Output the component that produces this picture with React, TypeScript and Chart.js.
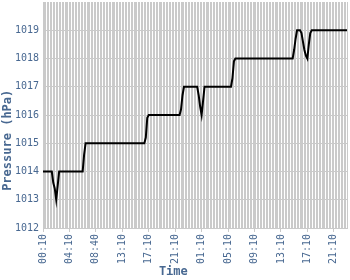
import { useEffect, useRef } from 'react';
import { Chart, registerables } from 'chart.js';

Chart.register(...registerables);

// Visible time tick labels (one every POINTS_PER_TICK samples)
const tickLabels = ['00:10', '04:10', '08:40', '13:10', '17:10', '21:10', '01:10', '05:10', '09:10', '13:10', '17:10', '21:10'];
const POINTS_PER_TICK = 18;

// Pressure readings (hPa), one per sample
const pressure = [
  1014, 1014, 1014, 1014, 1014, 1014, 1014, 1013.6, 1013.4, 1013.0,
  1013.5, 1014, 1014, 1014, 1014, 1014, 1014, 1014, 1014, 1014,
  1014, 1014, 1014, 1014, 1014, 1014, 1014, 1014, 1014.6, 1015,
  1015, 1015, 1015, 1015, 1015, 1015, 1015, 1015, 1015, 1015,
  1015, 1015, 1015, 1015, 1015, 1015, 1015, 1015, 1015, 1015,
  1015, 1015, 1015, 1015, 1015, 1015, 1015, 1015, 1015, 1015,
  1015, 1015, 1015, 1015, 1015, 1015, 1015, 1015, 1015, 1015,
  1015.2, 1015.9, 1016, 1016, 1016, 1016, 1016, 1016, 1016, 1016,
  1016, 1016, 1016, 1016, 1016, 1016, 1016, 1016, 1016, 1016,
  1016, 1016, 1016, 1016, 1016.2, 1016.7, 1017, 1017, 1017, 1017,
  1017, 1017, 1017, 1017, 1017, 1017, 1016.7, 1016.3, 1016.0, 1016.5,
  1017, 1017, 1017, 1017, 1017, 1017, 1017, 1017, 1017, 1017,
  1017, 1017, 1017, 1017, 1017, 1017, 1017, 1017, 1017, 1017.3,
  1017.9, 1018, 1018, 1018, 1018, 1018, 1018, 1018, 1018, 1018,
  1018, 1018, 1018, 1018, 1018, 1018, 1018, 1018, 1018, 1018,
  1018, 1018, 1018, 1018, 1018, 1018, 1018, 1018, 1018, 1018,
  1018, 1018, 1018, 1018, 1018, 1018, 1018, 1018, 1018, 1018,
  1018, 1018.3, 1018.7, 1019, 1019, 1019, 1018.9, 1018.6, 1018.3, 1018.1,
  1018.0, 1018.5, 1018.9, 1019, 1019, 1019, 1019, 1019, 1019, 1019,
  1019, 1019, 1019, 1019, 1019, 1019, 1019, 1019, 1019, 1019,
  1019, 1019, 1019, 1019, 1019, 1019, 1019, 1019,
];

// Category labels: the tick label at every POINTS_PER_TICK-th sample, blank otherwise
const categories = pressure.map((_, i) =>
  i % POINTS_PER_TICK === 0 ? tickLabels[i / POINTS_PER_TICK] ?? '' : ''
);

const Y_MIN = 1012;
const Y_MAX = 1020;

const GRID = '#cacaca';
const TEXT = '#486891';
const MONO = "'DejaVu Sans Mono', monospace";

export default function App() {
  const ref = useRef<HTMLCanvasElement>(null);

  useEffect(() => {
    const chart = new Chart(ref.current!, {
      type: 'line',
      data: {
        labels: categories,
        datasets: [
          {
            data: pressure,
            borderColor: '#000000',
            borderWidth: 2,
            pointRadius: 0,
            tension: 0,
            fill: false,
          },
        ],
      },
      options: {
        responsive: false,
        animation: false,
        layout: { padding: { top: 2, right: 3, left: 0, bottom: 0 } },
        plugins: { legend: { display: false }, tooltip: { enabled: false } },
        scales: {
          x: {
            type: 'category',
            offset: false,
            grid: {
              color: GRID,
              lineWidth: 1,
              offset: false,
              drawTicks: true,
              tickLength: 4,
              tickColor: (c: any) => (c.index % POINTS_PER_TICK === 0 ? GRID : 'rgba(0,0,0,0)'),
            },
            border: { color: GRID },
            ticks: {
              autoSkip: false,
              maxRotation: 90,
              minRotation: 90,
              padding: 2,
              color: TEXT,
              font: { family: MONO, size: 10 },
              callback: (_v: any, i: number) => categories[i],
            },
            title: {
              display: true,
              text: 'Time      ',
              color: TEXT,
              font: { family: MONO, size: 12, weight: 'bold' },
              padding: { top: 0, bottom: 1 },
            },
            afterFit: (s: any) => {
              s.height = 52;
              s.paddingLeft = 0;
              s.paddingRight = 0;
            },
          },
          y: {
            min: Y_MIN,
            max: Y_MAX,
            grid: {
              color: (c: any) => (c.tick && c.tick.value === Y_MAX ? 'rgba(0,0,0,0)' : GRID),
              lineWidth: 1,
              drawTicks: false,
            },
            border: { color: GRID },
            ticks: {
              stepSize: 1,
              padding: 4,
              color: TEXT,
              font: { family: MONO, size: 10 },
              callback: (v: any) => (v === Y_MAX ? '' : String(v)),
            },
            title: {
              display: true,
              text: 'Pressure (hPa)       ',
              color: TEXT,
              font: { family: MONO, size: 12, weight: 'bold' },
              padding: { top: 1, bottom: 0 },
            },
            afterFit: (s: any) => {
              s.width = 43;
              s.paddingTop = 0;
              s.paddingBottom = 0;
            },
          },
        },
      },
    });
    return () => chart.destroy();
  }, []);

  return (
    <div style={{ position: 'fixed', left: 0, top: 0, width: 350, height: 280, background: '#ffffff' }}>
      <canvas ref={ref} width={350} height={280} style={{ display: 'block' }} />
    </div>
  );
}
